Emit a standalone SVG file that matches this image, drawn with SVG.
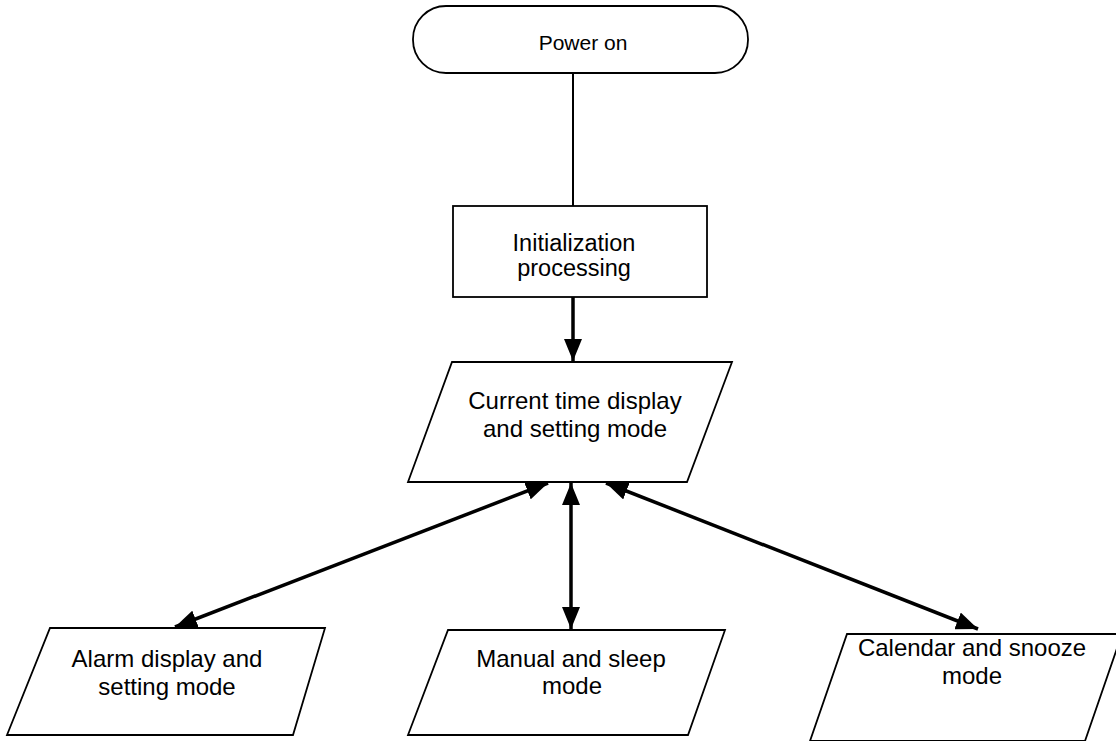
<svg xmlns="http://www.w3.org/2000/svg" width="1116" height="741" viewBox="0 0 1116 741">
<style>
.shape{fill:#fff;stroke:#000;stroke-width:1.8}
.t{font-family:"Liberation Sans",Arial,sans-serif;font-size:24px;fill:#000;text-anchor:middle}
.c{stroke:#000;fill:none}
</style>
<defs>
<marker id="ah" viewBox="0 0 22 18" refX="22" refY="9" markerWidth="22" markerHeight="18" markerUnits="userSpaceOnUse" orient="auto-start-reverse">
<path d="M0,0 L22,9 L0,18 Z" fill="#000"/>
</marker>
</defs>
<rect width="1116" height="741" fill="#fff"/>
<g id="connectors">
<line class="c" x1="573" y1="73" x2="573" y2="206" stroke-width="2"/>
<line class="c" x1="573" y1="297" x2="573" y2="361" stroke-width="3.5" marker-end="url(#ah)"/>
<line class="c" x1="548" y1="483" x2="175" y2="627" stroke-width="3.5" marker-start="url(#ah)" marker-end="url(#ah)"/>
<line class="c" x1="571" y1="483" x2="571" y2="629" stroke-width="3.5" marker-start="url(#ah)" marker-end="url(#ah)"/>
<line class="c" x1="606" y1="483" x2="978" y2="629" stroke-width="3.5" marker-start="url(#ah)" marker-end="url(#ah)"/>
</g>
<g id="power-on">
<rect class="shape" x="413" y="6" width="335" height="67" rx="33" ry="33"/>
<text class="t" x="583" y="50" style="font-size:21px">Power on</text>
</g>
<g id="init">
<rect class="shape" x="453" y="206" width="254" height="91"/>
<text class="t" x="574" y="251" style="font-size:23.5px">Initialization</text>
<text class="t" x="574" y="276" style="font-size:23.5px">processing</text>
</g>
<g id="current-time">
<polygon class="shape" points="452,362 732,362 687,482 408,482"/>
<text class="t" x="575" y="409">Current time display</text>
<text class="t" x="575" y="437">and setting mode</text>
</g>
<g id="alarm">
<polygon class="shape" points="50,628 325,628 293,735 7,735"/>
<text class="t" x="167" y="667">Alarm display and</text>
<text class="t" x="167" y="695">setting mode</text>
</g>
<g id="manual">
<polygon class="shape" points="448,630 725,630 688,735 408,735"/>
<text class="t" x="571" y="667">Manual and sleep</text>
<text class="t" x="572" y="694">mode</text>
</g>
<g id="calendar">
<polygon class="shape" points="847,634 1122,634 1085,741 810,741"/>
<text class="t" x="972" y="656">Calendar and snooze</text>
<text class="t" x="972" y="684">mode</text>
</g>
</svg>
